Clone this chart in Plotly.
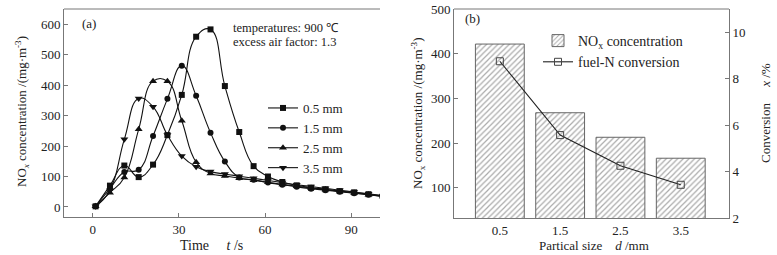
import plotly.graph_objects as go

# ---- Panel (a) data ----
time_s = [1, 6, 11, 16, 21, 26, 31, 36, 41, 46, 51, 56, 61, 66, 71, 76, 81, 86, 91, 96, 101]
nox_05 = [2, 70, 136, 98, 139, 236, 368, 559, 583, 397, 246, 134, 100, 82, 71, 63, 58, 52, 48, 42, 36]
nox_15 = [2, 60, 115, 122, 233, 355, 464, 365, 244, 149, 97, 89, 80, 73, 66, 60, 55, 50, 45, 40, 35]
nox_25 = [2, 47, 97, 255, 413, 413, 283, 147, 110, 102, 94, 88, 81, 74, 68, 62, 57, 51, 46, 40, 34]
nox_35 = [2, 55, 222, 356, 329, 236, 167, 132, 116, 108, 101, 94, 87, 80, 73, 67, 61, 55, 49, 43, 37]
series_names = ["0.5 mm", "1.5 mm", "2.5 mm", "3.5 mm"]
series_symbols = ["square", "circle", "triangle-up", "triangle-down"]

# ---- Panel (b) data ----
size_mm = [0.5, 1.5, 2.5, 3.5]
nox_conc = [422, 268, 213, 166]
fuel_n_conv = [8.75, 5.57, 4.25, 3.43]

# body margin is removed by the post script, so the figure fills the window
OFF = 0
W, H = 777 - OFF, 255 - OFF
FONT = "Liberation Serif, Times New Roman, serif"
TXT = "#222222"
AX = "#777777"

def px_x(p):
    return (p - OFF) / W

def px_y(p):
    return 1 - (p - OFF) / H

fig = go.Figure()

for name, sym, vals in zip(series_names, series_symbols, [nox_05, nox_15, nox_25, nox_35]):
    fig.add_trace(go.Scatter(
        x=time_s, y=vals, name=name, mode="lines+markers",
        line=dict(color="#111111", width=1.1, shape="spline", smoothing=1.3),
        marker=dict(symbol=sym, size=6 if sym in ("square", "circle") else 7, color="#111111"),
        xaxis="x", yaxis="y", legend="legend",
    ))

fig.add_trace(go.Bar(
    x=size_mm, y=nox_conc, name="NO<sub>x</sub> concentration", width=0.81,
    marker=dict(color="white", line=dict(color="#666666", width=1),
                pattern=dict(shape="/", fgcolor="#555555", bgcolor="white", size=4, solidity=0.3)),
    xaxis="x2", yaxis="y2", legend="legend2",
))
fig.add_trace(go.Scatter(
    x=size_mm, y=fuel_n_conv, name="fuel-N conversion", mode="lines+markers",
    line=dict(color="#222222", width=1.1),
    marker=dict(symbol="square-open", size=7, color="#444444", line=dict(width=1)),
    xaxis="x2", yaxis="y3", legend="legend2",
))

axis_common = dict(
    showline=True, linecolor=AX, linewidth=1, ticks="inside", ticklen=4,
    tickcolor=AX, showgrid=False, zeroline=False, automargin=False,
    ticklabeloverflow="allow",
    tickfont=dict(family=FONT, size=13, color=TXT),
)

fig.update_layout(
    width=W, height=H,
    margin=dict(l=0, r=0, t=0, b=0, autoexpand=False),
    paper_bgcolor="white", plot_bgcolor="white",
    font=dict(family=FONT, size=13, color=TXT),
    showlegend=True,
    xaxis=dict(domain=[px_x(64), px_x(380)], range=[-10, 100], tickvals=[0, 30, 60, 90],
               anchor="y", **axis_common),
    yaxis=dict(domain=[px_y(217), px_y(9)], range=[-33, 650],
               tickvals=[0, 100, 200, 300, 400, 500, 600], anchor="x", **axis_common),
    xaxis2=dict(domain=[px_x(454), px_x(729)], range=[-0.26, 4.3], tickvals=size_mm,
                ticktext=["0.5", "1.5", "2.5", "3.5"], anchor="y2",
                **{k: (0 if k == "ticklen" else v) for k, v in axis_common.items()}),
    yaxis2=dict(domain=[px_y(218), px_y(9)], range=[32, 500.6], tickvals=[100, 200, 300, 400, 500],
                anchor="x2", **axis_common),
    yaxis3=dict(range=[2, 11], tickvals=[2, 4, 6, 8, 10], overlaying="y2", side="right",
                anchor="x2", **axis_common),
    legend=dict(x=px_x(263), y=px_y(93), xanchor="left", yanchor="top",
                bgcolor="rgba(0,0,0,0)", borderwidth=0, tracegroupgap=0,
                font=dict(family=FONT, size=13, color=TXT), itemwidth=30),
    legend2=dict(x=px_x(538), y=px_y(25), xanchor="left", yanchor="top",
                 bgcolor="rgba(0,0,0,0)", borderwidth=0,
                 font=dict(family=FONT, size=14, color=TXT), itemwidth=30),
)

# top borders of both panels
fig.add_shape(type="line", xref="paper", yref="paper", x0=px_x(64), x1=px_x(380),
              y0=px_y(9), y1=px_y(9), line=dict(color=AX, width=1))
fig.add_shape(type="line", xref="paper", yref="paper", x0=px_x(454), x1=px_x(729),
              y0=px_y(9), y1=px_y(9), line=dict(color=AX, width=1))

def note(x, y, text, size=13, angle=0, xanchor="center", align="center"):
    fig.add_annotation(x=px_x(x), y=px_y(y), xref="paper", yref="paper", text=text,
                       showarrow=False, xanchor=xanchor, yanchor="middle", align=align,
                       textangle=angle, font=dict(family=FONT, size=size, color=TXT))

note(80, 23, "(a)", xanchor="left")
note(463, 19, "(b)", xanchor="left")
note(231, 28, "temperatures: 900 ℃", size=12.5, xanchor="left", align="left")
note(231, 42, "excess air factor: 1.3", size=12.5, xanchor="left", align="left")

# axis titles
note(22, 112, "NO<sub><i>x</i></sub> concentration /(mg·m<sup>-3</sup>)", size=13, angle=-90)
note(212, 245, "Time\u00a0\u00a0\u00a0\u00a0\u00a0<i>t</i> /s", size=14)
note(418, 113, "NO<sub>x</sub> concentration /(mg·m<sup>-3</sup>)", size=13, angle=-90)
note(594, 245, "Partical size\u00a0\u00a0\u00a0\u00a0<i>d</i> /mm", size=13)
note(765, 113, "Conversion\u00a0\u00a0\u00a0\u00a0\u00a0<i>x</i> /%", size=13, angle=-90)

fig.write_html("out.html",
               config={"displayModeBar": False},
               post_script="document.body.style.margin='0px';document.body.style.overflow='hidden';")
